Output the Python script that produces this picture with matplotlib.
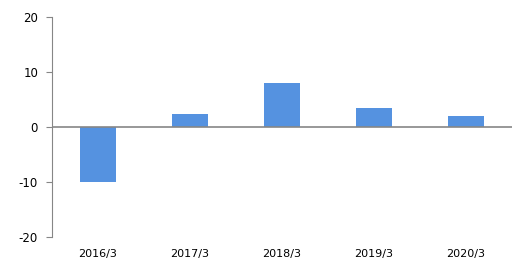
import matplotlib
matplotlib.use("Agg")
import matplotlib.pyplot as plt

categories = ["2016/3", "2017/3", "2018/3", "2019/3", "2020/3"]
values = [-10.0, 2.4, 8.0, 3.5, 2.0]
yticks = [-20, -10, 0, 10, 20]

plt.rcParams["axes.unicode_minus"] = False

fig = plt.figure(figsize=(5.3, 2.65), dpi=100)
ax = fig.add_axes([0.098, 0.106, 0.868, 0.83])

x = range(len(categories))
ax.bar(x, values, width=0.39, color="#5592E0", zorder=2)
ax.axhline(0, color="#868686", linewidth=1.2, zorder=3)

ax.set_xlim(-0.5, len(categories) - 0.5)
ax.set_ylim(-20, 20)
ax.set_yticks(yticks)
ax.set_xticks(list(x))
ax.set_xticklabels(categories)

for side in ("top", "right", "bottom"):
    ax.spines[side].set_visible(False)
ax.spines["left"].set_color("#868686")
ax.tick_params(axis="y", length=4, color="#868686", labelsize=8.5, pad=6)
ax.tick_params(axis="x", length=0, labelsize=8, pad=9)

fig.savefig("out.png", dpi=100)
